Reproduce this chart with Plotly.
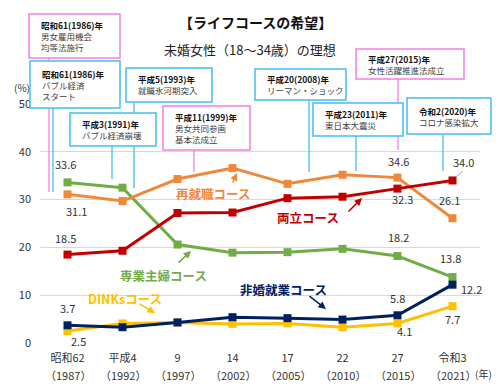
import plotly.graph_objects as go

categories = ["昭和62", "平成4", "9", "14", "17", "22", "27", "令和3"]
years = ["（1987）", "（1992）", "（1997）", "（2002）", "（2005）", "（2010）", "（2015）", "（2021）"]
saishushoku = [31.1, 29.7, 34.3, 36.6, 33.3, 35.2, 34.6, 26.1]   # 再就職コース
ryoritsu = [18.5, 19.3, 27.2, 27.3, 30.3, 30.6, 32.3, 34.0]      # 両立コース
sengyo = [33.6, 32.5, 20.6, 18.9, 19.0, 19.7, 18.2, 13.8]        # 専業主婦コース
hikon = [3.7, 3.3, 4.3, 5.4, 5.2, 4.9, 5.8, 12.2]                # 非婚就業コース
dinks = [2.5, 4.1, 4.3, 4.0, 4.1, 3.3, 4.1, 7.7]                 # DINKsコース

FONT = "Noto Sans CJK JP"
C_OR, C_RD, C_GR, C_NV, C_YL = "#F0883A", "#C00000", "#70AD47", "#002060", "#FFC000"
C_BLUE, C_PINK = "#45BDEE", "#F47FE3"

OFF = 8  # page body margin
W, H = 500, 388
# plot area in screen pixels
L, R, T, B = 40, 480, 104, 343
def PX(px): return (px - L) / (R - L)
def PY(py): return (B - py) / (B - T)

fig = go.Figure()
for name, vals, col in [("専業主婦", sengyo, C_GR), ("再就職", saishushoku, C_OR),
                        ("両立", ryoritsu, C_RD), ("DINKs", dinks, C_YL), ("非婚就業", hikon, C_NV)]:
    fig.add_trace(go.Scatter(x=categories, y=vals, mode="lines+markers", name=name,
                             line=dict(color=col, width=3),
                             marker=dict(symbol="square", size=8, color=col),
                             cliponaxis=False, showlegend=False))

ann = []
shapes = []

def text_at(x, y, t, size, color, xanchor="center"):
    ann.append(dict(x=PX(x), y=PY(y), xref="paper", yref="paper", text=t, showarrow=False,
                    xanchor=xanchor, yanchor="middle", font=dict(family=FONT, size=size, color=color)))

# year line under each category tick (x given as category index)
for i, yr in enumerate(years):
    ann.append(dict(x=i, y=PY(375), xref="x", yref="paper", text=yr, showarrow=False,
                    xanchor="center", yanchor="middle", font=dict(family=FONT, size=11, color="#333333")))

# data labels (index, series, xshift, yshift)
labels = [
    (0, sengyo, -2, 18), (0, saishushoku, 9, -17), (0, ryoritsu, -2, 17), (0, hikon, 0, 17), (0, dinks, 11, -10),
    (6, saishushoku, 1, 17), (6, ryoritsu, 5, -10), (6, sengyo, 1, 19), (6, hikon, 0, 17), (6, dinks, 7, -8),
    (7, ryoritsu, 11, 18), (7, saishushoku, -3, 18), (7, sengyo, -2, 19), (7, hikon, 19, -4), (7, dinks, 0, -13),
]
for i, s, xs, ys in labels:
    ann.append(dict(x=i, y=s[i], xref="x", yref="y", text=f"{s[i]:.1f}", showarrow=False,
                    xanchor="center", yanchor="middle",
                    xshift=xs, yshift=ys, font=dict(family=FONT, size=11, color="#333333")))

# series names
series_lbl = [("再就職コース", C_OR, 213, 193), ("両立コース", C_RD, 308, 217),
              ("専業主婦コース", C_GR, 163, 275), ("非婚就業コース", C_NV, 283, 289),
              ("DINKsコース", C_YL, 125, 298)]
for t, c, x, y in series_lbl:
    text_at(x, y, f"<b>{t}</b>", 12.5, c)
arrows = [(C_OR, 232, 184, 237, 173), (C_RD, 347, 213, 362, 198), (C_GR, 177, 264, 191, 251),
          (C_NV, 308, 295, 326, 309), (C_YL, 138, 303, 155, 313)]
for c, x0, y0, x1, y1 in arrows:
    ann.append(dict(x=PX(x1), y=PY(y1), xref="paper", yref="paper", text="", showarrow=True,
                    ax=x0 - x1, ay=y0 - y1, arrowhead=2, arrowsize=1, arrowwidth=1.5, arrowcolor=c))

# leader for 34.0
shapes.append(dict(type="line", xref="paper", yref="paper", x0=PX(463), y0=PY(171), x1=PX(456), y1=PY(177),
                   line=dict(color="#A6A6A6", width=1)))

# event boxes: (x0,y0,x1,y1,color,title,body lines, line_x, line_y_end)
boxes = [
    (29, 14, 120, 58, C_PINK, "昭和61(1986)年", ["男女雇用機会", "均等法施行"], 49, 192),
    (30, 61, 120, 108, C_BLUE, "昭和61(1986)年", ["バブル経済", "スタート"], 53, 192),
    (126, 68, 212, 102, C_BLUE, "平成5(1993)年", ["就職氷河期突入"], 134, 188),
    (70, 113, 156, 146, C_BLUE, "平成3(1991)年", ["バブル経済崩壊"], 112, 179),
    (163, 106, 250, 150, C_PINK, "平成11(1999)年", ["男女共同参画", "基本法成立"], 194, 172),
    (255, 69, 346, 100, C_BLUE, "平成20(2008)年", ["リーマン・ショック"], 309, 172),
    (356, 49, 464, 79, C_PINK, "平成27(2015)年", ["女性活躍推進法成立"], 398, 150),
    (313, 103, 403, 136, C_BLUE, "平成23(2011)年", ["東日本大震災"], 356, 171),
    (407, 98, 491, 134, C_BLUE, "令和2(2020)年", ["コロナ感染拡大"], 443, 171),
]
for x0, y0, x1, y1, c, title, body, lx, ly in boxes:
    shapes.append(dict(type="line", xref="paper", yref="paper", x0=PX(lx), x1=PX(lx), y0=PY(y1), y1=PY(ly),
                       line=dict(color=c, width=1.3), layer="above"))
for x0, y0, x1, y1, c, title, body, lx, ly in boxes:
    shapes.append(dict(type="rect", xref="paper", yref="paper", x0=PX(x0), x1=PX(x1), y0=PY(y1), y1=PY(y0),
                       line=dict(color=c, width=1.5), fillcolor="white", layer="above"))
    txt = f"<b>{title}</b>" + "".join(f"<br><span style='color:#404040'>{b}</span>" for b in body)
    ann.append(dict(x=PX(x0 + 10), y=PY((y0 + y1) / 2), xref="paper", yref="paper", text=txt,
                    showarrow=False, xanchor="left", yanchor="middle", align="left",
                    font=dict(family=FONT, size=8.5, color="#111111")))

# titles and axis units
text_at(255, 22, "<b>【ライフコースの希望】</b>", 14, "#111111")
text_at(250, 49, "未婚女性（18～34歳）の理想", 13, "#222222")
text_at(22, 87, "(%)", 10, "#333333")
text_at(483, 373, "(年)", 10, "#333333")

fig.update_layout(
    width=W, height=H,
    margin=dict(l=L - OFF, r=W - (R - OFF), t=T - OFF, b=H - (B - OFF)),
    paper_bgcolor="white", plot_bgcolor="white",
    font=dict(family=FONT, size=11, color="#333333"),
    xaxis=dict(type="category", range=[-0.5, 7.5], showgrid=False, showline=False, zeroline=False,
               ticks="", ticklabelstandoff=7,
               tickfont=dict(family=FONT, size=11, color="#333333")),
    yaxis=dict(range=[0, 50], dtick=10, showgrid=True, gridcolor="#D9D9D9", gridwidth=1, zeroline=False,
               showline=False, ticks="", ticklabelstandoff=8,
               tickfont=dict(family=FONT, size=11, color="#333333")),
    annotations=ann, shapes=shapes,
)
fig.write_html("out.html")
